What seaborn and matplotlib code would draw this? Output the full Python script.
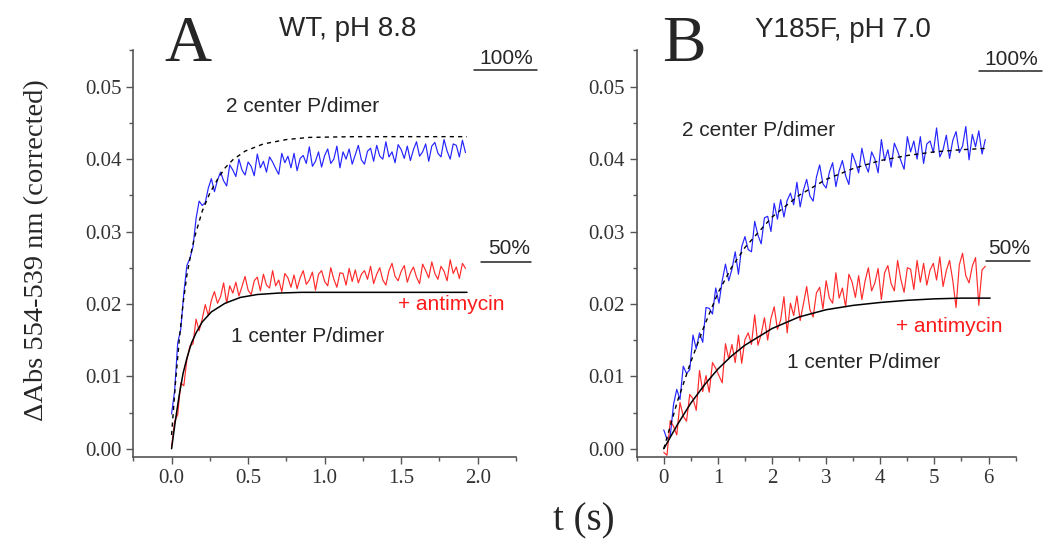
import numpy as np
import matplotlib
matplotlib.use("Agg")
import matplotlib.pyplot as plt
from matplotlib.lines import Line2D
from matplotlib.ticker import MultipleLocator, FormatStrFormatter
import seaborn as sns

# ---- data (mAbs = 1e-3 absorbance units) ----
# Panel A: WT, pH 8.8, traces sampled every 0.02 s
tA_step = 0.02
blueA = [4.8, 8.0, 14.6, 16.5, 21.5, 25.3, 26.3, 27.9, 31.8, 34.2,
         33.6, 34.0, 36.0, 37.3, 35.5, 37.1, 38.2, 37.0, 36.3, 39.2,
         38.5, 37.6, 40.0, 38.5, 37.8, 39.6, 39.0, 37.7, 40.7, 38.8,
         39.7, 38.2, 40.3, 39.6, 38.7, 37.9, 40.8, 39.5, 40.4, 38.8,
         40.8, 38.4, 40.1, 40.5, 39.4, 41.7, 39.0, 39.7, 41.0, 38.9,
         40.5, 41.4, 39.4, 40.0, 41.8, 38.8, 41.0, 40.0, 41.4, 39.3,
         40.6, 41.9, 39.9, 39.3, 41.1, 41.5, 39.7, 41.9, 40.4, 40.0,
         42.4, 40.3, 41.0, 39.5, 42.0, 41.3, 40.1, 41.8, 39.8, 41.3,
         42.4, 40.4, 41.0, 42.1, 39.7, 41.8, 42.3, 40.8, 40.3, 42.7,
         41.1, 40.0, 42.1, 41.9, 40.3, 42.6, 40.9]
redA = [0.2, 3.8, 4.7, 9.1, 8.7, 12.3, 14.2, 14.5, 17.9, 16.3,
        17.9, 19.9, 18.4, 20.5, 21.7, 20.1, 21.0, 22.9, 20.1, 22.5,
        21.5, 23.0, 21.1, 22.4, 23.8, 21.9, 21.3, 23.2, 23.7, 21.8,
        24.1, 22.6, 22.2, 24.6, 22.5, 23.3, 21.7, 24.2, 23.6, 22.3,
        24.0, 22.1, 23.6, 24.6, 22.7, 23.3, 24.4, 21.9, 24.1, 24.6,
        23.1, 22.5, 25.0, 23.4, 22.3, 24.3, 24.2, 22.6, 24.9, 23.1,
        24.7, 22.9, 24.1, 24.6, 23.4, 25.2, 22.8, 24.1, 25.0, 23.3,
        22.6, 24.6, 25.6, 23.8, 23.2, 24.5, 25.3, 23.0, 24.3, 25.1,
        23.7, 22.8, 25.5, 24.6, 23.6, 25.8, 24.2, 23.4, 25.2, 24.5,
        23.2, 26.1, 24.2, 25.1, 23.5, 25.6, 24.9]
fit2A_t = [0, 0.025, 0.05, 0.075, 0.1, 0.125, 0.15, 0.2, 0.25, 0.3,
           0.35, 0.4, 0.48, 0.6, 0.75, 0.9, 1.2, 1.93]
fit2A = [1.9, 9.0, 15.0, 20.0, 24.0, 26.8, 29.2, 32.8, 35.3, 37.2,
         38.8, 39.9, 41.1, 42.1, 42.7, 43.0, 43.1, 43.1]
fit1A_t = [0, 0.025, 0.05, 0.075, 0.1, 0.13, 0.16, 0.2, 0.26, 0.35,
           0.45, 0.56, 0.7, 0.85, 1.0, 1.93]
fit1A = [0, 3.9, 7.4, 10.4, 12.5, 14.6, 16.0, 17.5, 18.9, 20.1,
         20.9, 21.3, 21.5, 21.6, 21.6, 21.6]

# Panel B: Y185F, pH 7.0, traces sampled every 0.06 s
tB_step = 0.06
blueB = [2.6, 1.3, 1.8, 6.1, 8.2, 6.8, 11.4, 10.4, 10.9, 15.7,
         13.8, 16.0, 14.7, 19.5, 19.4, 18.6, 22.2, 20.1, 23.2, 25.5,
         23.2, 24.8, 27.2, 24.1, 27.9, 29.3, 27.5, 27.2, 31.4, 29.5,
         28.3, 31.9, 32.1, 30.0, 33.9, 31.7, 34.4, 32.0, 34.3, 35.3,
         33.7, 36.8, 33.4, 35.7, 37.2, 34.9, 34.2, 37.5, 39.2, 36.6,
         36.0, 38.2, 39.5, 36.2, 38.4, 39.8, 37.7, 36.5, 40.8, 39.6,
         38.1, 41.5, 39.3, 38.2, 41.0, 40.0, 38.1, 42.7, 39.8, 41.3,
         38.9, 42.2, 41.1, 39.8, 38.6, 43.1, 41.0, 42.5, 40.0, 43.1,
         39.4, 42.1, 42.5, 40.9, 44.3, 40.3, 41.3, 43.3, 40.1, 42.6,
         43.8, 40.9, 41.8, 44.5, 39.9, 43.4, 41.7, 43.9, 40.7, 42.7]
redB = [-0.5, -0.9, 3.9, 3.1, 1.9, 6.4, 4.5, 3.8, 7.5, 6.9,
        5.3, 10.8, 7.9, 10.1, 7.8, 11.9, 11.1, 10.1, 9.1, 14.5,
        12.4, 14.4, 11.9, 15.7, 11.8, 15.1, 16.0, 14.4, 18.5, 14.3,
        15.8, 18.1, 15.0, 18.0, 19.6, 16.5, 17.8, 21.0, 16.0, 20.1,
        18.4, 21.1, 17.7, 20.0, 22.4, 19.2, 18.2, 21.5, 22.3, 19.3,
        23.2, 20.8, 20.1, 24.3, 20.8, 22.2, 19.6, 24.1, 23.0, 20.9,
        23.9, 20.6, 23.2, 25.0, 21.8, 22.9, 24.9, 20.6, 24.3, 25.3,
        22.8, 21.8, 26.0, 23.4, 21.6, 25.0, 24.8, 22.0, 26.0, 23.0,
        25.6, 22.6, 24.7, 25.6, 23.3, 26.5, 22.4, 24.6, 26.0, 23.2,
        19.5, 25.4, 27.0, 23.9, 22.9, 25.2, 26.4, 19.8, 24.7, 25.2]
fit2B_t = [0, 0.25, 0.5, 0.75, 1.0, 1.25, 1.5, 2.0, 2.5, 3.0,
           3.5, 4.0, 4.5, 5.0, 5.5, 6.0]
fit2B = [0, 6.5, 12.0, 17.0, 21.5, 25.0, 27.8, 32.0, 35.0, 37.2,
         38.7, 39.8, 40.5, 41.0, 41.3, 41.5]
fit1B_t = [0, 0.25, 0.5, 0.75, 1.0, 1.25, 1.5, 2.0, 2.5, 3.0,
           3.5, 4.0, 4.5, 5.0, 5.5, 6.03]
fit1B = [0, 3.3, 6.3, 8.8, 11.0, 12.8, 14.3, 16.6, 18.2, 19.2,
         19.8, 20.2, 20.5, 20.7, 20.8, 20.8]

panels = [
    dict(step=tA_step, blue=blueA, red=redA,
         f2t=fit2A_t, f2=fit2A, f1t=fit1A_t, f1=fit1A),
    dict(step=tB_step, blue=blueB, red=redB,
         f2t=fit2B_t, f2=fit2B, f1t=fit1B_t, f1=fit1B),
]

# ---- style ----
sns.set_style("ticks")
plt.rcParams["font.family"] = ["Liberation Serif", "DejaVu Serif"]
SANS = ["Liberation Sans", "DejaVu Sans"]
W, H = 1050, 545

fig = plt.figure(figsize=(W / 100, H / 100), dpi=100)
axA = fig.add_axes([133.3 / W, 1 - 456.7 / H, (516 - 133.3) / W, (456.7 - 50.5) / H])
axB = fig.add_axes([636.7 / W, 1 - 456.7 / H, (1015.6 - 636.7) / W, (456.7 - 50.5) / H])

for ax, p in zip([axA, axB], panels):
    n = len(p["blue"])
    t = np.round(np.arange(n) * p["step"], 3)
    sns.lineplot(x=t, y=np.array(p["blue"]) / 1000, ax=ax, color="#2424ff",
                 lw=0.85, sort=False, estimator=None)
    sns.lineplot(x=t, y=np.array(p["red"]) / 1000, ax=ax, color="#ff2a2a",
                 lw=0.85, sort=False, estimator=None)
    sns.lineplot(x=p["f2t"], y=np.array(p["f2"]) / 1000, ax=ax, color="black",
                 lw=1.0, sort=False, estimator=None, linestyle=(0, (3, 3)))
    sns.lineplot(x=p["f1t"], y=np.array(p["f1"]) / 1000, ax=ax, color="black",
                 lw=1.1, sort=False, estimator=None)

    ax.set_ylim(-0.0011, 0.0550)
    ax.yaxis.set_major_locator(MultipleLocator(0.01))
    ax.yaxis.set_minor_locator(MultipleLocator(0.005))
    ax.yaxis.set_major_formatter(FormatStrFormatter("%.2f"))
    sns.despine(ax=ax)
    for s in ["left", "bottom"]:
        ax.spines[s].set_color("#555555")
        ax.spines[s].set_linewidth(1.2)
    ax.tick_params(which="major", direction="out", length=5, width=1,
                   color="#555555", labelsize=15, labelcolor="#333333")
    ax.tick_params(which="minor", direction="out", length=3, width=1,
                   color="#555555")
    ax.set_xlabel("")
    ax.set_ylabel("")

axA.set_xlim(-0.25, 2.25)
axA.xaxis.set_major_locator(MultipleLocator(0.5))
axA.xaxis.set_minor_locator(MultipleLocator(0.25))
axA.xaxis.set_major_formatter(FormatStrFormatter("%.1f"))
axB.set_xlim(-0.5, 6.5)
axB.xaxis.set_major_locator(MultipleLocator(1))
axB.xaxis.set_minor_locator(MultipleLocator(0.5))


def ftxt(x, y, s, **kw):
    fig.text(x / W, 1 - y / H, s, ha="center", va="center", **kw)


def uline(x0, x1, y):
    fig.add_artist(Line2D([x0 / W, x1 / W], [1 - y / H, 1 - y / H],
                          color="#222222", lw=1.1))


# panel letters and titles
ftxt(188, 45, "A", fontsize=47)
ftxt(684, 45, "B", fontsize=47)
ftxt(348, 29, "WT, pH 8.8", fontsize=20, family=SANS)
ftxt(843, 30, "Y185F, pH 7.0", fontsize=20, family=SANS)

# 100% / 50% markers
ftxt(506, 58, "100%", fontsize=15, family=SANS)
uline(474, 537, 70)
ftxt(1011, 59, "100%", fontsize=15, family=SANS)
uline(979, 1042, 71)
ftxt(509, 248, "50%", fontsize=15, family=SANS)
uline(481, 531, 262)
ftxt(1009, 249, "50%", fontsize=15, family=SANS)
uline(986, 1030, 261)

# curve annotations
ftxt(303, 106, "2 center P/dimer", fontsize=15, family=SANS)
ftxt(308, 337, "1 center P/dimer", fontsize=15, family=SANS)
ftxt(451, 305, "+ antimycin", fontsize=15, family=SANS, color="#ff1a1a")
ftxt(759, 130, "2 center P/dimer", fontsize=15, family=SANS)
ftxt(864, 363, "1 center P/dimer", fontsize=15, family=SANS)
ftxt(949, 327, "+ antimycin", fontsize=15, family=SANS, color="#ff1a1a")

# axis labels
ftxt(37, 250, "\u0394Abs 554-539 nm (corrected)", fontsize=20.5, rotation=90)
ftxt(584, 521, "t (s)", fontsize=28)

fig.savefig("out.png", dpi=100)
